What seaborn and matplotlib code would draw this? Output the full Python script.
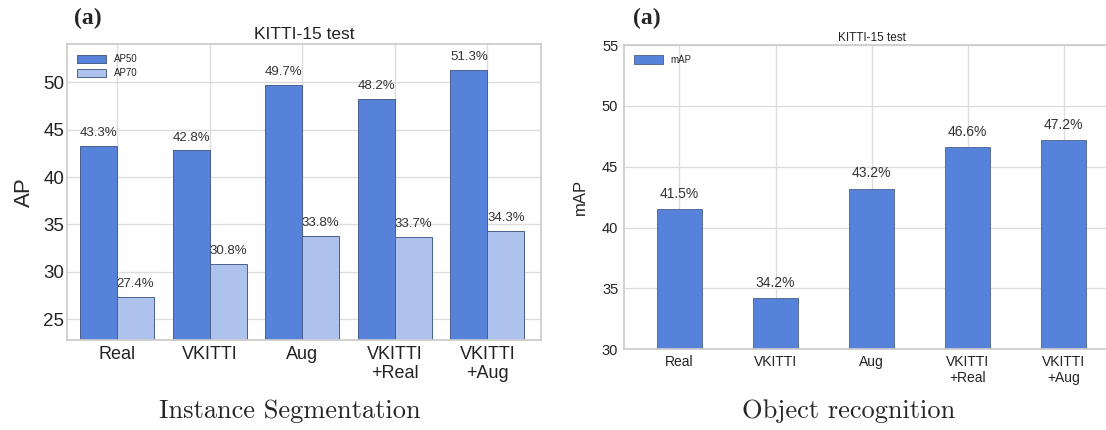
import pandas as pd
import numpy as np
import matplotlib
matplotlib.use("Agg")
import matplotlib.pyplot as plt
import seaborn as sns

# data
settings = ["Real", "VKITTI", "Aug", "VKITTI\n+Real", "VKITTI\n+Aug"]
ap50 = [43.3, 42.8, 49.7, 48.2, 51.3]
ap70 = [27.4, 30.8, 33.8, 33.7, 34.3]
map_vals = [41.5, 34.2, 43.2, 46.6, 47.2]

dark_blue = "#5682d9"
light_blue = "#adc3ee"
edge = "#4b5f8c"

sns.set_theme(style="whitegrid")
plt.rcParams["font.family"] = ["Liberation Sans", "DejaVu Sans"]
plt.rcParams["grid.color"] = "#dcdcdc"
plt.rcParams["axes.edgecolor"] = "#cccccc"

df_seg = pd.DataFrame({
    "setting": settings * 2,
    "AP": ap50 + ap70,
    "metric": ["AP50"] * 5 + ["AP70"] * 5,
})
df_rec = pd.DataFrame({"setting": settings, "mAP": map_vals, "metric": ["mAP"] * 5})

fig = plt.figure(figsize=(11.06, 4.30), dpi=100)

# ---- left: instance segmentation
ax1 = fig.add_axes([0.0606, 0.209, 0.4286, 0.688])
sns.barplot(data=df_seg, x="setting", y="AP", hue="metric", palette=[dark_blue, light_blue],
            width=0.8, edgecolor=edge, linewidth=0.7, saturation=1, ax=ax1, zorder=2)
for cont in ax1.containers:
    ax1.bar_label(cont, fmt="%.1f%%", padding=5, fontsize=9.5, color="#333333")
ax1.set_ylim(22.8, 54)
ax1.set_xlim(-0.54, 4.58)
ax1.set_yticks([25, 30, 35, 40, 45, 50])
ax1.tick_params(axis="y", labelsize=13.5, pad=2, length=0, colors="#222222")
ax1.tick_params(axis="x", labelsize=13, pad=4, length=0, colors="#222222")
ax1.set_xlabel("")
ax1.set_ylabel("AP", fontsize=16, labelpad=6)
ax1.set_title("KITTI-15 test", fontsize=12.5, pad=4, color="#222222")
ax1.legend(loc="upper left", fontsize=7, frameon=False, handlelength=3, handleheight=0.9,
           borderaxespad=0.6, labelspacing=0.4)
ax1.grid(True, axis="both", color="#dcdcdc", linewidth=1)
ax1.set_axisbelow(True)

# ---- right: object recognition
ax2 = fig.add_axes([0.564, 0.188, 0.448, 0.707])
sns.barplot(data=df_rec, x="setting", y="mAP", hue="metric", palette=[dark_blue],
            width=0.46, edgecolor=edge, linewidth=0.6, saturation=1, ax=ax2, zorder=2)
for cont in ax2.containers:
    ax2.bar_label(cont, fmt="%.1f%%", padding=6, fontsize=10, color="#333333")
ax2.set_ylim(30, 55)
ax2.set_xlim(-0.58, 4.58)
ax2.set_yticks([30, 35, 40, 45, 50, 55])
ax2.tick_params(axis="y", labelsize=10.5, pad=4, length=0, colors="#222222")
ax2.tick_params(axis="x", labelsize=10, pad=4, length=0, colors="#222222")
ax2.set_xlabel("")
ax2.set_ylabel("mAP", fontsize=12, labelpad=10)
ax2.set_title("KITTI-15 test", fontsize=8.5, pad=3, color="#222222")
ax2.legend(loc="upper left", fontsize=7, frameon=False, handlelength=3, handleheight=0.9,
           borderaxespad=0.6)
ax2.grid(True, axis="both", color="#dcdcdc", linewidth=1)
ax2.set_axisbelow(True)

# panel tags and captions
fig.text(0.067, 0.958, "(a)", fontsize=17, fontweight="bold", family="Liberation Serif", va="center")
fig.text(0.572, 0.958, "(a)", fontsize=17, fontweight="bold", family="Liberation Serif", va="center")
fig.text(0.262, 0.045, "Instance Segmentation", fontsize=19, family="cmr10", ha="center", va="center")
fig.text(0.767, 0.045, "Object recognition", fontsize=19, family="cmr10", ha="center", va="center")

fig.savefig("out.png", dpi=100)
